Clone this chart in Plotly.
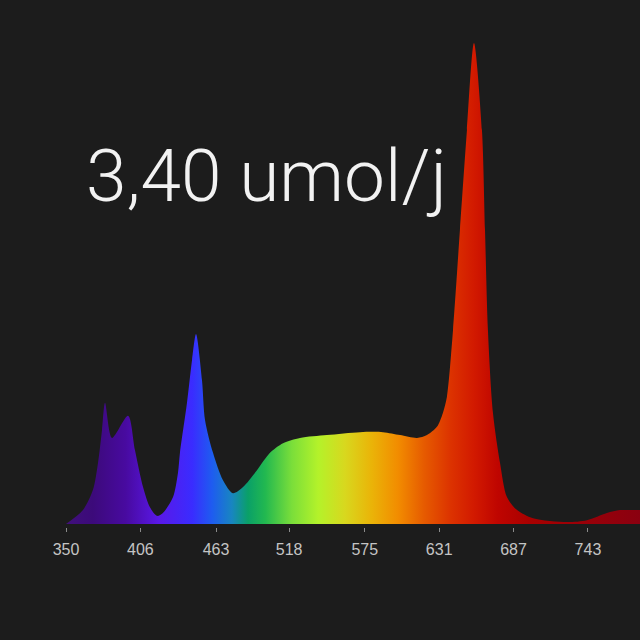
import plotly.graph_objects as go

# Spectrum (wavelength nm, relative intensity, red peak = 100)
wavelength = [350.0, 362.8, 370.3, 374.1, 377.1, 379.4, 384.6, 396.7, 401.9, 408.0,
              413.2, 418.5, 423.0, 430.6, 434.3, 435.8, 441.1, 444.9, 447.9, 452.4,
              454.7, 460.7, 468.2, 475.7, 483.3, 493.8, 503.6, 513.4, 526.2, 546.5,
              571.4, 588.7, 601.5, 614.3, 621.8, 629.3, 633.8, 636.8, 641.4, 646.6,
              651.9, 657.2, 663.2, 665.5, 667.7, 671.5, 676.8, 682.0, 689.6,
              701.6, 727.2, 742.3, 757.3, 767.1, 776.9, 782.2]
intensity = [0.0, 2.9, 7.1, 12.7, 19.5, 25.2, 17.9, 22.5, 15.4, 7.7,
             3.5, 1.7, 2.3, 5.6, 10.6, 14.8, 25.2, 34.1, 39.5, 29.9,
             21.6, 14.8, 9.1, 6.4, 7.7, 11.2, 14.8, 16.8, 17.9, 18.5,
             19.1, 19.1, 18.5, 17.9, 18.5, 20.2, 23.1, 26.4, 40.3, 61.1,
             81.9, 100.0, 81.9, 61.1, 40.3, 23.1, 12.7, 5.6, 2.9,
             1.2, 0.4, 0.8, 2.3, 2.9, 2.9, 2.9]

tick_labels = [350, 406, 463, 518, 575, 631, 687, 743]

title_text = "3,40 umol/j"

# Spectral colour stops (nm, colour)
stop_nm = [350, 370, 395, 420, 445, 460, 475, 487, 500, 520, 540, 560, 580, 600,
           620, 640, 657, 675, 700, 782.2]
stop_col = ["#40107a", "#3c0a7a", "#480aa0", "#5a18e8", "#3a2cff", "#1e5cf0",
            "#1886c0", "#0aa068", "#22b850", "#7ade3a", "#b4f22a", "#d8d81e",
            "#eab408", "#f28c00", "#e65a00", "#dc3200", "#d21a00", "#bf0500",
            "#a80000", "#8a0010"]

BG = "#1c1c1c"
x0, x1 = 350.0, 782.2
colorscale = [[(n - x0) / (x1 - x0), c] for n, c in zip(stop_nm, stop_col)]

fig = go.Figure()
fig.add_trace(go.Scatter(
    x=wavelength, y=intensity,
    mode="lines",
    line=dict(width=0, shape="spline", smoothing=0.8, color="rgba(0,0,0,0)"),
    fill="tozeroy",
    fillgradient=dict(type="horizontal", colorscale=colorscale, start=x0, stop=x1),
    hoverinfo="skip",
    showlegend=False,
))

fig.add_annotation(
    text=title_text, xref="paper", yref="paper",
    x=0.031, y=0.693, xanchor="left", yanchor="middle",
    showarrow=False,
    font=dict(family="Roboto", size=73, color="#f2f2f2", weight=300),
)

fig.update_layout(
    width=640, height=640,
    paper_bgcolor=BG, plot_bgcolor=BG,
    margin=dict(l=66, r=0, t=20, b=113),
    xaxis=dict(
        range=[x0, x1], showgrid=False, zeroline=False, showline=False,
        tickmode="array", tickvals=tick_labels, ticktext=[str(t) for t in tick_labels],
        ticks="outside", ticklen=4, tickwidth=1, tickcolor="#8a8a8a",
        ticklabelstandoff=4,
        tickfont=dict(family="Liberation Sans", size=16, color="#c4c4c4"),
        fixedrange=True,
    ),
    yaxis=dict(range=[-0.62, 104.8], visible=False, fixedrange=True),
)

fig.write_html(
    "out.html",
    config={"displayModeBar": False},
    post_script="document.body.style.margin='0';document.body.style.background='" + BG + "';",
)
